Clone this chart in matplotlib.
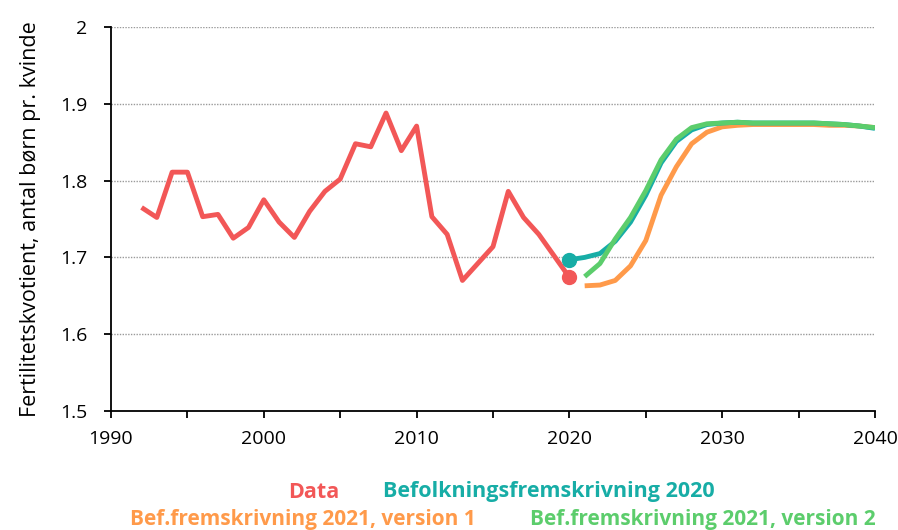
import matplotlib
matplotlib.use("Agg")
import matplotlib.pyplot as plt

plt.rcParams['font.family'] = ['Open Sans', 'DejaVu Sans']

# ---- data ----
data_years = list(range(1992, 2021))
data_vals = [1.765, 1.752, 1.811, 1.811, 1.753, 1.756, 1.725, 1.739, 1.775, 1.746,
             1.726, 1.760, 1.786, 1.802, 1.848, 1.844, 1.888, 1.839, 1.871, 1.753,
             1.730, 1.670, 1.692, 1.714, 1.786, 1.752, 1.730, 1.702, 1.674]

bf2020_years = list(range(2020, 2041))
bf2020_vals = [1.697, 1.700, 1.705, 1.721, 1.746, 1.781, 1.823, 1.851, 1.866, 1.873,
               1.875, 1.876, 1.875, 1.875, 1.875, 1.875, 1.875, 1.874, 1.873, 1.871, 1.868]

v1_years = list(range(2021, 2041))
v1_vals = [1.663, 1.664, 1.670, 1.689, 1.722, 1.781, 1.818, 1.848, 1.863, 1.870,
           1.872, 1.873, 1.873, 1.873, 1.873, 1.873, 1.872, 1.872, 1.871, 1.869]

v2_years = list(range(2021, 2041))
v2_vals = [1.675, 1.692, 1.724, 1.752, 1.787, 1.827, 1.854, 1.869, 1.874, 1.875,
           1.876, 1.875, 1.875, 1.875, 1.875, 1.875, 1.874, 1.873, 1.871, 1.869]

y_ticks = [1.5, 1.6, 1.7, 1.8, 1.9, 2.0]
y_tick_labels = ["1.5", "1.6", "1.7", "1.8", "1.9", "2"]
x_ticks = [1990, 2000, 2010, 2020, 2030, 2040]
x_minor = [1995, 2005, 2015, 2025, 2035]

labels = ["Data", "Befolkningsfremskrivning 2020",
          "Bef.fremskrivning 2021, version 1", "Bef.fremskrivning 2021, version 2"]

RED = "#F25757"
TEAL = "#17ADA6"
ORANGE = "#FF9A4A"
GREEN = "#5CCD6C"

W, H = 898, 530
fig = plt.figure(figsize=(W / 100, H / 100), dpi=100)
ax = fig.add_axes([111 / W, (H - 411) / H, (875 - 111) / W, (411 - 27) / H])

lw = 3.5
ax.plot(v1_years, v1_vals, color=ORANGE, lw=lw, solid_capstyle='butt', zorder=3)
ax.plot(bf2020_years, bf2020_vals, color=TEAL, lw=lw, solid_capstyle='butt', zorder=4)
ax.plot(v2_years, v2_vals, color=GREEN, lw=lw, solid_capstyle='butt', zorder=5)
ax.plot(data_years, data_vals, color=RED, lw=lw, solid_capstyle='butt', zorder=6)
ax.plot([data_years[-1]], [data_vals[-1]], 'o', color=RED, ms=10, zorder=7)
ax.plot([bf2020_years[0]], [bf2020_vals[0]], 'o', color=TEAL, ms=10, zorder=7)

ax.set_xlim(1990, 2040)
ax.set_ylim(1.5, 2.0)
ax.set_yticks(y_ticks)
ax.set_yticklabels(y_tick_labels)
ax.set_xticks(x_ticks)
ax.set_xticks(x_minor, minor=True)

for y in y_ticks[1:]:
    ax.axhline(y, color="#9a9a9a", lw=1.0, ls=(0, (1, 1)), zorder=1)

for s in ["top", "right"]:
    ax.spines[s].set_visible(False)
for s in ["left", "bottom"]:
    ax.spines[s].set_color("black")
    ax.spines[s].set_linewidth(1.3)

ax.tick_params(axis='y', which='major', length=5, width=1.3, direction='out',
               labelsize=14, pad=12, colors='black')
ax.tick_params(axis='x', which='both', length=5, width=1.3, direction='out',
               labelsize=14, pad=9, colors='black')

ax.set_ylabel("Fertilitetskvotient, antal børn pr. kvinde", fontsize=15.5, labelpad=14)

fig.text(288 / W, 1 - 492 / H, labels[0], color=RED, fontsize=15.5, fontweight='bold',
         ha='left', va='center')
fig.text(383 / W, 1 - 492 / H, labels[1], color=TEAL, fontsize=15.5, fontweight='bold',
         ha='left', va='center')
fig.text(130 / W, 1 - 519 / H, labels[2], color=ORANGE, fontsize=15, fontweight='bold',
         ha='left', va='center')
fig.text(530 / W, 1 - 519 / H, labels[3], color=GREEN, fontsize=15, fontweight='bold',
         ha='left', va='center')

fig.savefig("out.png", dpi=100)
